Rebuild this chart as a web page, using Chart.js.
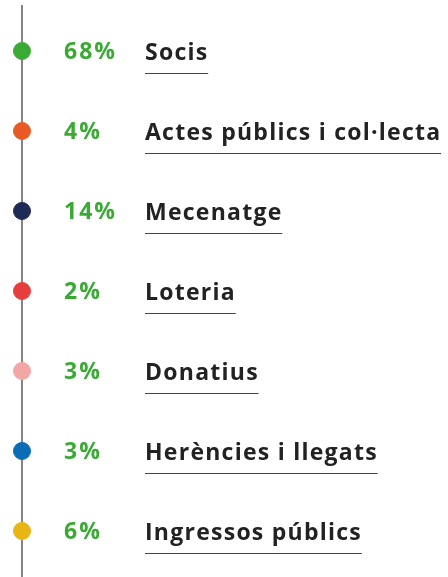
<!DOCTYPE html>
<html>
<head>
<meta charset="utf-8">
<script src="https://cdn.jsdelivr.net/npm/chart.js@4.4.1/dist/chart.umd.min.js"></script>
<style>
  html, body { margin: 0; padding: 0; background: #ffffff; }
  .chart-container { width: 448px; height: 577px; position: relative; }
</style>
</head>
<body>
<div class="chart-container"><canvas id="myChart"></canvas></div>
<script>
// Données
const categories = ['Socis', 'Actes públics i col·lecta', 'Mecenatge', 'Loteria', 'Donatius', 'Herències i llegats', 'Ingressos públics'];
const percents = [68, 4, 14, 2, 3, 3, 6];
const dotColors = ['#3aaa35', '#e85a24', '#1f2a55', '#e63e3e', '#f2a7a5', '#0a6db5', '#e8b514'];

// Plugin pour la ligne verticale, les pourcentages et les libellés
const timelinePlugin = {
    id: 'timeline',
    beforeDatasetsDraw(chart) {
        const ctx = chart.ctx;
        const x = chart.scales.x.getPixelForValue(0);
        ctx.save();
        ctx.strokeStyle = '#333333';
        ctx.lineWidth = 1.2;
        ctx.beginPath();
        ctx.moveTo(x, chart.chartArea.top + 5);
        ctx.lineTo(x, chart.chartArea.bottom);
        ctx.stroke();
        ctx.restore();
    },
    afterDatasetsDraw(chart) {
        const ctx = chart.ctx;
        const meta = chart.getDatasetMeta(0);
        ctx.save();
        ctx.textBaseline = 'alphabetic';
        meta.data.forEach((pt, i) => {
            // pourcentage
            ctx.fillStyle = '#3aaa35';
            ctx.font = 'bold 23px "Open Sans"';
            ctx.letterSpacing = '2px';
            ctx.fillText(percents[i] + '%', pt.x + 42, pt.y + 8);
            // libellé
            ctx.fillStyle = '#222222';
            ctx.font = 'bold 23px "Open Sans"';
            ctx.letterSpacing = '1.25px';
            const lx = pt.x + 123;
            ctx.fillText(categories[i], lx, pt.y + 8.5);
            const w = ctx.measureText(categories[i]).width - 1.25;
            ctx.strokeStyle = '#444444';
            ctx.lineWidth = 1;
            ctx.beginPath();
            ctx.moveTo(lx, pt.y + 22.5);
            ctx.lineTo(lx + w + 1, pt.y + 22.5);
            ctx.stroke();
        });
        ctx.restore();
    }
};

const config = {
    type: 'scatter',
    data: {
        datasets: [{
            data: categories.map((c, i) => ({ x: 0, y: i })),
            backgroundColor: dotColors,
            borderColor: dotColors,
            pointRadius: 8.5,
            pointHoverRadius: 8.5
        }]
    },
    options: {
        responsive: true,
        maintainAspectRatio: false,
        animation: false,
        layout: { padding: 0, autoPadding: false },
        scales: {
            x: { display: false, min: -1, max: 19.36 },
            y: { display: false, reverse: true, min: -0.6375, max: 6.575 }
        },
        plugins: {
            legend: { display: false },
            tooltip: { enabled: false }
        }
    },
    plugins: [timelinePlugin]
};

const ctx = document.getElementById('myChart').getContext('2d');
new Chart(ctx, config);
</script>
</body>
</html>
